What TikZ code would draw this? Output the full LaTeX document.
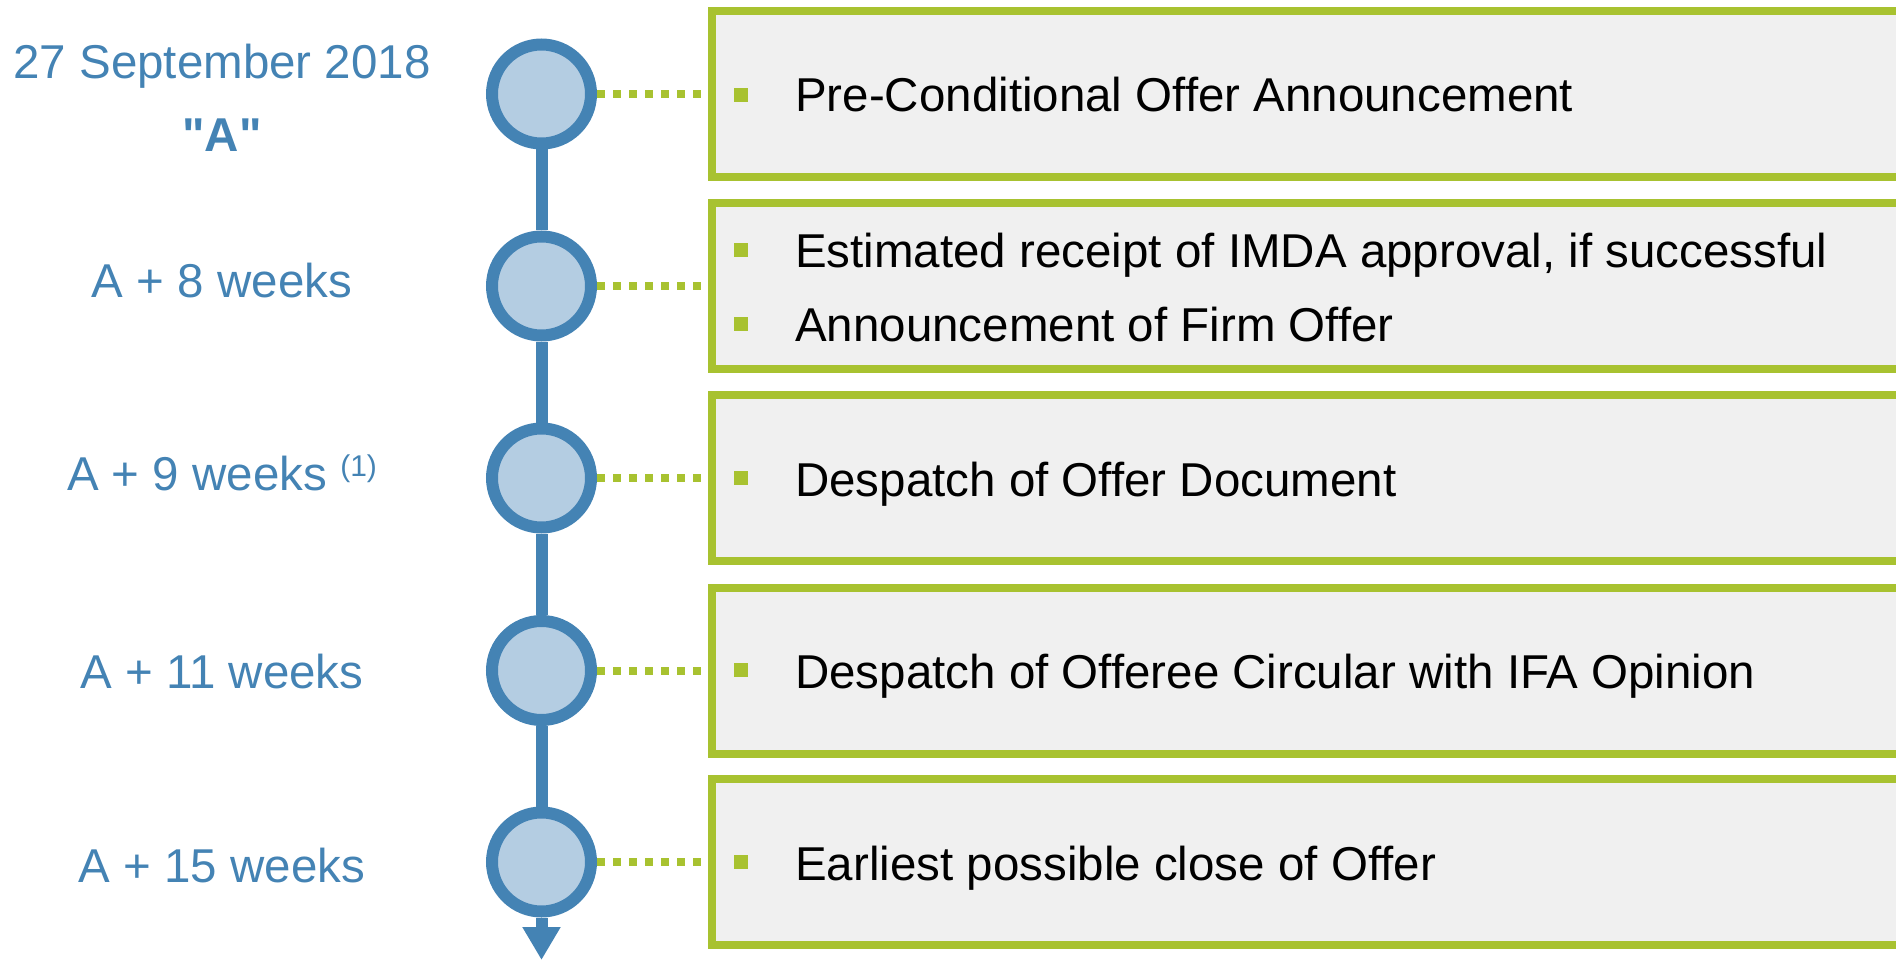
\documentclass[tikz,border=0pt]{standalone}
\usepackage{fontspec}
\setmainfont{Liberation Sans}[Ligatures=TeXOff]
\usetikzlibrary{arrows.meta}
\definecolor{tlblue}{RGB}{68,131,180}
\definecolor{tllight}{RGB}{180,205,226}
\definecolor{tlgreen}{RGB}{168,194,48}
\definecolor{boxfill}{RGB}{240,240,240}
\tikzset{
  milestone/.style={circle, draw=tlblue, fill=tllight, line width=12pt, minimum size=99pt, inner sep=0pt},
  evbox/.style={rectangle, draw=tlgreen, fill=boxfill, line width=8pt, minimum width=1300pt, minimum height=166pt, inner sep=0pt, anchor=west},
  spine/.style={draw=tlblue, line width=12pt},
  dotline/.style={draw=tlgreen, line width=8pt, dash pattern=on 8pt off 8pt},
  bulletsq/.style={rectangle, fill=tlgreen, minimum size=14pt, inner sep=0pt},
  evtext/.style={anchor=base west, inner sep=0pt, text=black, font=\fontsize{47.5pt}{57pt}\selectfont},
  datelbl/.style={anchor=base, inner sep=0pt, text=tlblue, font=\fontsize{47.5pt}{57pt}\selectfont}
}
\begin{document}
\begin{tikzpicture}[x=1pt,y=-1pt]
\useasboundingbox (0,0) rectangle (1896,960);
\clip (0,0) rectangle (1896,960);
% boxes
\node[evbox] (b1) at (707.5,94) {};
\node[evbox] (b2) at (707.5,286) {};
\node[evbox] (b3) at (707.5,478) {};
\node[evbox] (b4) at (707.5,670.5) {};
\node[evbox] (b5) at (707.5,862) {};
% milestones
\node[milestone] (c1) at (541.5,94) {};
\node[milestone] (c2) at (541.5,286) {};
\node[milestone] (c3) at (541.5,478) {};
\node[milestone] (c4) at (541.5,670.5) {};
\node[milestone] (c5) at (541.5,862) {};
\coordinate (tip) at (541.5,960);
% spine
\draw[spine] (c1.south) -- (c2.north);
\draw[spine] (c2.south) -- (c3.north);
\draw[spine] (c3.south) -- (c4.north);
\draw[spine] (c4.south) -- (c5.north);
\draw[spine, -{Triangle[length=33pt,width=36pt]}] (c5.south) -- (tip);
% dotted connectors
\draw[dotline] (c1.east) -- (b1.west);
\draw[dotline] (c2.east) -- (b2.west);
\draw[dotline] (c3.east) -- (b3.west);
\draw[dotline] (c4.east) -- (b4.west);
\draw[dotline] (c5.east) -- (b5.west);
% date labels
\node[datelbl] (l1) at (222,79) {27 September 2018};
\node[datelbl, font=\fontsize{47.5pt}{57pt}\selectfont\bfseries] (l1a) at (222,152) {"A"};
\node[datelbl] (l2) at (222,297) {A + 8 weeks};
\node[datelbl] (l3) at (222,490) {A + 9 weeks \raisebox{14pt}{\fontsize{30pt}{32pt}\selectfont (1)}};
\node[datelbl] (l4) at (222,688) {A + 11 weeks};
\node[datelbl] (l5) at (222,882) {A + 15 weeks};
% bullets and texts
\node[bulletsq] (s1) at (741,95) {};
\node[evtext] (t1) at (795,112) {Pre-Conditional Offer Announcement};
\node[bulletsq] (s2a) at (741,250) {};
\node[evtext] (t2a) at (795,267) {Estimated receipt of IMDA approval, if successful};
\node[bulletsq] (s2b) at (741,324) {};
\node[evtext] (t2b) at (795,341) {Announcement of Firm Offer};
\node[bulletsq] (s3) at (741,478) {};
\node[evtext] (t3) at (795,496) {Despatch of Offer Document};
\node[bulletsq] (s4) at (741,670) {};
\node[evtext] (t4) at (795,688) {Despatch of Offeree Circular with IFA Opinion};
\node[bulletsq] (s5) at (741,862) {};
\node[evtext] (t5) at (795,880) {Earliest possible close of Offer};
\end{tikzpicture}
\end{document}
